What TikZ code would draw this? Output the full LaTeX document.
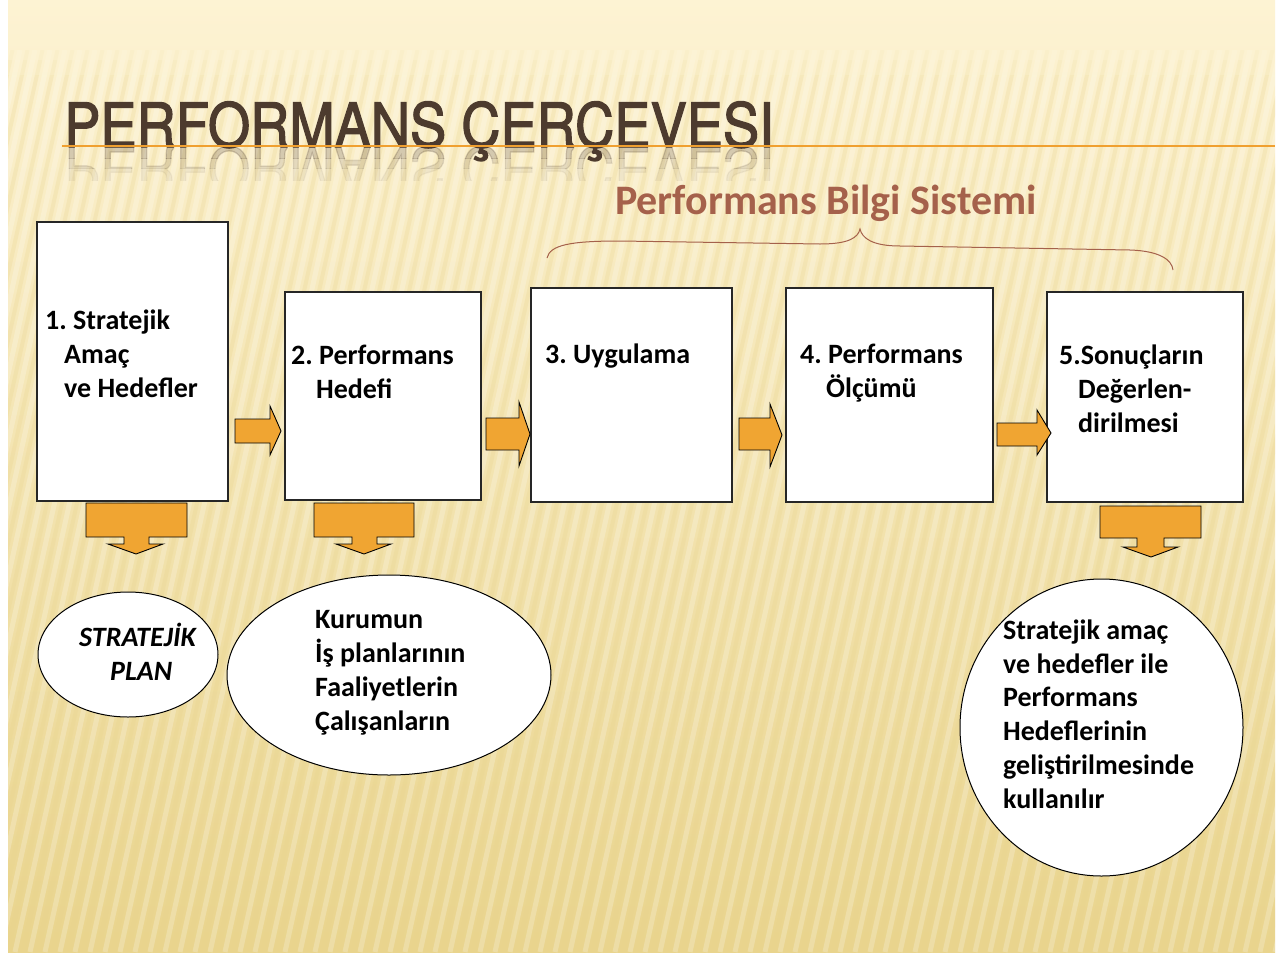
\documentclass[tikz,border=0pt]{standalone}
\usepackage{fontspec}
\usepackage{graphicx}
\setmainfont{Carlito}
\newfontfamily\titlefont[FakeBold=2.2]{TeX Gyre Heros}
\usetikzlibrary{shapes.geometric}
\definecolor{bgtop}{HTML}{FDF3D3}
\definecolor{bgmid}{HTML}{F8E7B2}
\definecolor{bgbot}{HTML}{E9D48D}
\definecolor{arrowor}{HTML}{F0A532}
\definecolor{titlebr}{HTML}{4D3B2E}
\definecolor{bracecol}{HTML}{A5614B}
\definecolor{rulecol}{HTML}{F0A030}
\frenchspacing
\begin{document}
\begin{tikzpicture}[x=1pt,y=-1pt,
  box/.style={draw=black!85, line width=1.1pt, fill=white, inner sep=0},
  txt/.style={font=\fontsize{28}{34}\selectfont\bfseries, inner sep=0, anchor=base west},
  itxt/.style={font=\fontsize{28}{34}\selectfont\bfseries\itshape, inner sep=0, anchor=base west},
  oval/.style={ellipse, draw=black, line width=1pt, fill=white, inner sep=0},
  orarrow/.style={fill=arrowor, draw=black, line width=0.9pt, line join=miter},
  titletxt/.style={inner sep=0, anchor=base west, text=titlebr}]
\useasboundingbox (0,0) rectangle (1283,956);
\fill[white] (0,0) rectangle (1283,956);
\shade[top color=bgtop, middle color=bgmid, bottom color=bgbot] (8,0) rectangle (1275,952);
\begin{scope}
  \clip (8,50) rectangle (1275,952);
  \foreach \i in {-15,...,85} {
    \draw[white, opacity=0.22, line width=5pt] ({\i*15},952) -- ({\i*15+200},50);
    \draw[bgbot, opacity=0.25, line width=4pt] ({\i*15+7.5},952) -- ({\i*15+207.5},50);
  }
\end{scope}
\fill[bgtop, opacity=0.6] (8,50) rectangle (1275,60);
\fill[bgtop, opacity=0.3] (8,60) rectangle (1275,75);

% title
\node[titletxt] (title) at (64,147) {\titlefont\fontsize{61}{61}\selectfont\scalebox{0.89}[1]{PERFORMANS ÇERÇEVESI}};
\begin{scope}
  \clip (40,147) rectangle (800,158);
  \node[titletxt, opacity=0.22] (refla) at (64,147) {\titlefont\fontsize{61}{61}\selectfont\scalebox{0.89}[-1]{PERFORMANS ÇERÇEVESI}};
\end{scope}
\begin{scope}
  \clip (40,158) rectangle (800,168);
  \node[titletxt, opacity=0.13] (reflb) at (64,147) {\titlefont\fontsize{61}{61}\selectfont\scalebox{0.89}[-1]{PERFORMANS ÇERÇEVESI}};
\end{scope}
\begin{scope}
  \clip (40,168) rectangle (800,180);
  \node[titletxt, opacity=0.06] (reflc) at (64,147) {\titlefont\fontsize{61}{61}\selectfont\scalebox{0.89}[-1]{PERFORMANS ÇERÇEVESI}};
\end{scope}
\draw[rulecol, line width=1.2pt] (62,146) -- (1275,146);

% Performans Bilgi Sistemi + brace
\node[font=\fontsize{42}{46}\selectfont\bfseries, text=bracecol, inner sep=0, anchor=base] (pbs) at (826,214) {Performans Bilgi Sistemi};
\draw[bracecol, line width=1pt] (547,258) .. controls (550,245) and (570,241) .. (620,241) -- (820,244) .. controls (848,244) and (858,238) .. (860,229) .. controls (862,238) and (872,246) .. (900,246) -- (1130,250) .. controls (1160,251) and (1172,260) .. (1173,270);

% boxes
\node[box, minimum width=191pt, minimum height=279pt] (b1) at (132.5,361.5) {};
\node[box, minimum width=196pt, minimum height=208pt] (b2) at (383,396) {};
\node[box, minimum width=201pt, minimum height=214pt] (b3) at (631.5,395) {};
\node[box, minimum width=207pt, minimum height=214pt] (b4) at (889.5,395) {};
\node[box, minimum width=196pt, minimum height=210pt] (b5) at (1145,397) {};

% right arrows
\draw[orarrow] (235,419) -- (270,419) -- (270,406) -- (281,431) -- (270,455) -- (270,443) -- (235,443) -- cycle;
\draw[orarrow] (486,418) -- (519,418) -- (519,402) -- (530,434) -- (519,466) -- (519,450) -- (486,450) -- cycle;
\draw[orarrow] (739,418) -- (770,418) -- (770,404) -- (782,435) -- (770,467) -- (770,450) -- (739,450) -- cycle;
\draw[orarrow] (997,423) -- (1037,423) -- (1037,410) -- (1051,433) -- (1037,455) -- (1037,446) -- (997,446) -- cycle;

% down arrows
\draw[orarrow] (86,503) -- (187,503) -- (187,537) -- (149,537) -- (149,544) -- (163,544) -- (136,554) -- (108,544) -- (124,544) -- (124,537) -- (86,537) -- cycle;
\draw[orarrow] (314,503) -- (414,503) -- (414,537) -- (377,537) -- (377,544) -- (391,544) -- (364,554) -- (336,544) -- (352,544) -- (352,537) -- (314,537) -- cycle;
\draw[orarrow] (1100,506) -- (1201,506) -- (1201,538) -- (1164,538) -- (1164,547) -- (1178,547) -- (1151,557) -- (1123,547) -- (1137,547) -- (1137,538) -- (1100,538) -- cycle;

% ellipses
\node[oval, minimum width=180pt, minimum height=125pt] (e1) at (128,654.5) {};
\node[oval, minimum width=324pt, minimum height=200pt] (e2) at (389,675) {};
\node[oval, minimum width=283pt, minimum height=297pt] (e3) at (1101.5,727.5) {};

% box texts
\node[txt] (t1a) at (45,329) {1. Stratejik};
\node[txt] (t1b) at (64,363) {Amaç};
\node[txt] (t1c) at (64,397) {ve Hedefler};
\node[txt] (t2a) at (291,364) {2. Performans};
\node[txt] (t2b) at (316,398) {Hedefi};
\node[txt] (t3a) at (545,363) {3. Uygulama};
\node[txt] (t4a) at (800,363) {4. Performans};
\node[txt] (t4b) at (826,397) {Ölçümü};
\node[txt] (t5a) at (1059,364) {5.Sonuçların};
\node[txt] (t5b) at (1078,398) {Değerlen-};
\node[txt] (t5c) at (1078,432) {dirilmesi};

% ellipse texts
\node[itxt] (e1a) at (79,646) {STRATEJİK};
\node[itxt] (e1b) at (110,680) {PLAN};
\node[txt] (e2a) at (315,628) {Kurumun};
\node[txt] (e2b) at (315,662) {İş planlarının};
\node[txt] (e2c) at (315,696) {Faaliyetlerin};
\node[txt] (e2d) at (315,730) {Çalışanların};
\node[txt] (e3a) at (1003,639) {Stratejik amaç};
\node[txt] (e3b) at (1003,673) {ve hedefler ile};
\node[txt] (e3c) at (1003,706) {Performans};
\node[txt] (e3d) at (1003,740) {Hedeflerinin};
\node[txt] (e3e) at (1003,774) {geliştirilmesinde};
\node[txt] (e3f) at (1003,808) {kullanılır};
\end{tikzpicture}
\end{document}
